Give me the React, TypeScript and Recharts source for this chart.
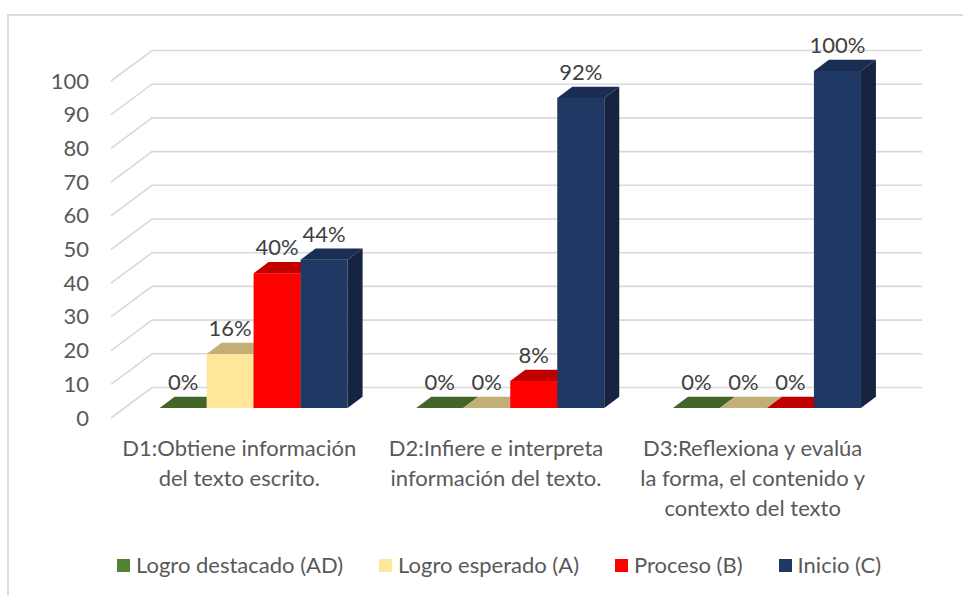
import React from 'react';
import { BarChart, Bar, XAxis, YAxis, CartesianGrid, LabelList } from 'recharts';

const categories = [
  'D1:Obtiene información del texto escrito.',
  'D2:Infiere e interpreta información del texto.',
  'D3:Reflexiona y evalúa la forma, el contenido y contexto del texto',
];
const logroDestacado = [0, 0, 0];
const logroEsperado = [16, 0, 0];
const proceso = [40, 8, 0];
const inicio = [44, 92, 100];
const yTicks = [0, 10, 20, 30, 40, 50, 60, 70, 80, 90, 100];

const series = [
  { key: 'ad', name: 'Logro destacado (AD)', values: logroDestacado, color: '#548235', top: '#43652A', side: '#375622' },
  { key: 'a', name: 'Logro esperado (A)', values: logroEsperado, color: '#FFE699', top: '#C2AF75', side: '#A89865' },
  { key: 'b', name: 'Proceso (B)', values: proceso, color: '#FF0000', top: '#C00000', side: '#A80000' },
  { key: 'c', name: 'Inicio (C)', values: inicio, color: '#203864', top: '#1A2D52', side: '#162442' },
];

const data = categories.map((name, i) => {
  const row: Record<string, string | number> = { name };
  series.forEach((s) => {
    row[s.key] = s.values[i];
  });
  return row;
});

// fake 3d: offsets of the bar front and the back wall from the axis plane
const BAR_SHIFT = { x: 13.3, y: -10 };
const BAR_DEPTH = { x: 15, y: -11.3 };
const WALL = { x: 41, y: -30.5 };

const FONT = 'Lato, "Open Sans", sans-serif';
const TEXT = '#595959';

function wrap(label: string, max = 24) {
  const lines: string[] = [];
  let cur = '';
  label.split(' ').forEach((w) => {
    const next = cur ? `${cur} ${w}` : w;
    if (next.length > max && cur) {
      lines.push(cur);
      cur = w;
    } else {
      cur = next;
    }
  });
  if (cur) lines.push(cur);
  return lines;
}

function Bar3D(props: any) {
  const { x, y, width, height, front, top, side } = props;
  if (x == null || y == null) return null;
  const fx = x + BAR_SHIFT.x;
  const fy = y + BAR_SHIFT.y;
  const h = Math.max(0, height);
  const dx = BAR_DEPTH.x;
  const dy = BAR_DEPTH.y;
  return (
    <g>
      {h > 0 && <rect x={fx} y={fy} width={width} height={h} fill={front} />}
      <path
        d={`M${fx},${fy}L${fx + width},${fy}L${fx + width + dx},${fy + dy}L${fx + dx},${fy + dy}Z`}
        fill={top}
      />
      <path
        d={`M${fx + width},${fy}L${fx + width + dx},${fy + dy}L${fx + width + dx},${fy + h + dy}L${fx + width},${fy + h}Z`}
        fill={side}
      />
    </g>
  );
}

function ValueLabel(props: any) {
  const vb = props.viewBox || {};
  const x = props.x ?? vb.x;
  const y = props.y ?? vb.y;
  const width = props.width ?? vb.width;
  if (x == null || y == null) return null;
  return (
    <text
      x={x + BAR_SHIFT.x + width / 2}
      y={y + BAR_SHIFT.y + BAR_DEPTH.y - 6.5}
      textAnchor="middle"
      fontFamily={FONT}
      fontSize={22}
      fill="#404040"
    >
      {`${props.value}%`}
    </text>
  );
}

function CategoryTick(props: any) {
  const { x, y, payload } = props;
  const lines = wrap(String(payload.value));
  return (
    <text x={x} y={y} textAnchor="middle" fontFamily={FONT} fontSize={22} fill={TEXT}>
      {lines.map((l, i) => (
        <tspan key={i} x={x} dy={i === 0 ? 37.5 : 30}>
          {l}
        </tspan>
      ))}
    </text>
  );
}

function ValueTick(props: any) {
  const { x, y, payload } = props;
  return (
    <text x={x} y={y} dy={7.5} textAnchor="end" fontFamily={FONT} fontSize={22} fill={TEXT}>
      {payload.value}
    </text>
  );
}

function GridLine(props: any) {
  const { x1, y1, x2, index } = props;
  return (
    <path
      key={`grid-${index}`}
      d={`M${x1},${y1}L${x1 + WALL.x},${y1 + WALL.y}L${x2 + WALL.x},${y1 + WALL.y}`}
      stroke="#D9D9D9"
      strokeWidth={1.6}
      fill="none"
    />
  );
}

export default function App() {
  return (
    <div
      style={{
        position: 'fixed',
        left: 0,
        top: 0,
        width: 963,
        height: 595,
        overflow: 'hidden',
        background: '#fff',
      }}
    >
      <div
        style={{
          position: 'absolute',
          left: 7,
          top: 14,
          width: 2000,
          height: 2000,
          borderLeft: '2px solid #DCDCDC',
          borderTop: '2px solid #DCDCDC',
        }}
      />
      <div style={{ position: 'absolute', left: 0, top: 0 }}>
        <BarChart
          width={963}
          height={595}
          data={data}
          margin={{ top: 81, right: 82, bottom: 77, left: 51 }}
          barCategoryGap={35.3}
          barGap={0}
        >
          <CartesianGrid vertical={false} horizontal={GridLine} />
          <XAxis
            dataKey="name"
            height={100}
            axisLine={false}
            tickLine={false}
            tickSize={0}
            tickMargin={0}
            interval={0}
            tick={<CategoryTick />}
          />
          <YAxis
            width={60}
            domain={[0, 100]}
            ticks={yTicks}
            axisLine={false}
            tickLine={false}
            tickSize={0}
            tickMargin={22}
            tick={<ValueTick />}
          />
          {series.map((s) => (
            <Bar
              key={s.key}
              dataKey={s.key}
              name={s.name}
              fill={s.color}
              isAnimationActive={false}
              shape={(p: any) => <Bar3D {...p} front={s.color} top={s.top} side={s.side} />}
            >
              <LabelList dataKey={s.key} content={<ValueLabel />} />
            </Bar>
          ))}
        </BarChart>
      </div>
      <div
        style={{
          position: 'absolute',
          left: 0,
          top: 550,
          width: 998,
          display: 'flex',
          justifyContent: 'center',
          gap: 36,
          fontFamily: FONT,
          fontSize: 22,
          color: TEXT,
          lineHeight: '30px',
        }}
      >
        {series.map((s) => (
          <div key={s.key} style={{ display: 'flex', alignItems: 'center' }}>
            <span style={{ width: 13, height: 13, background: s.color, marginRight: 6 }} />
            <span>{s.name}</span>
          </div>
        ))}
      </div>
    </div>
  );
}
